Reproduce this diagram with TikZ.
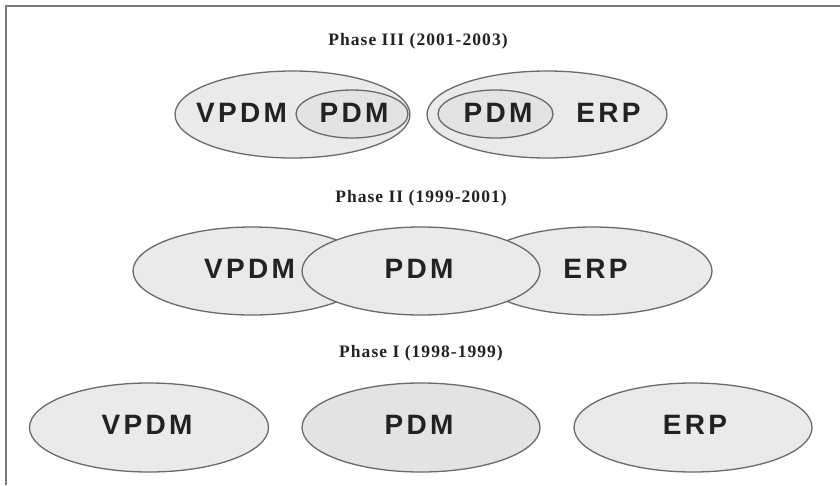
\documentclass[tikz,border=0pt]{standalone}
\usepackage{fontspec}
\setmainfont{Liberation Serif}
\newfontfamily\boxfont[LetterSpace=12]{Liberation Sans}
\newfontfamily\titlefont[LetterSpace=6]{Liberation Serif}
\usetikzlibrary{shapes.geometric}

\definecolor{edgegray}{HTML}{6A6A6A}
\definecolor{framegray}{HTML}{7A7A7A}
\definecolor{lightfill}{HTML}{EAEAEA}
\definecolor{midfill}{HTML}{E3E3E3}
\definecolor{ink}{HTML}{222222}

\tikzset{
  blob/.style={ellipse, draw=edgegray, line width=1.3pt, fill=#1, inner sep=0pt},
  blob/.default=lightfill,
  lbl/.style={font=\boxfont\bfseries\fontsize{28}{28}\selectfont, text=ink, inner sep=0pt},
  phasetitle/.style={font=\titlefont\bfseries\fontsize{17.5}{17.5}\selectfont, text=ink, inner sep=0pt}
}

\begin{document}
\begin{tikzpicture}[x=1pt, y=-1pt]
  % canvas and frame
  \fill[white] (0,0) rectangle (840,485);
  \useasboundingbox (0,0) rectangle (840,485);
  \coordinate (frameTL) at (6,6);
  \coordinate (frameTR) at (840,6);
  \coordinate (frameBL) at (6,485);
  \draw[framegray, line width=2pt] (frameBL) -- (frameTL) -- (frameTR);

  % Phase III
  \node[phasetitle] (t3) at (418,41) {Phase III (2001-2003)};
  \node[blob, minimum width=235, minimum height=87] (vpdm3) at (292.5,114.5) {};
  \node[blob=midfill, minimum width=112, minimum height=48] (pdm3a) at (352,114) {};
  \node[blob, minimum width=240, minimum height=87] (erp3) at (547,114.5) {};
  \node[blob=midfill, minimum width=115, minimum height=48] (pdm3b) at (495.5,114) {};
  \node[lbl] (vpdm3l) at (241.5,112.5) {VPDM};
  \node[lbl] (pdm3al) at (354,112.5) {PDM};
  \node[lbl] (pdm3bl) at (498,112.5) {PDM};
  \node[lbl] (erp3l) at (608.5,112.5) {ERP};

  % Phase II
  \node[phasetitle] (t2) at (421,198) {Phase II (1999-2001)};
  \node[blob, minimum width=238, minimum height=88] (vpdm2) at (252,271) {};
  \node[blob, minimum width=238, minimum height=88] (erp2) at (593,271) {};
  \node[blob, minimum width=238, minimum height=88] (pdm2) at (421,271) {};
  \node[lbl] (vpdm2l) at (249.5,269) {VPDM};
  \node[lbl] (pdm2l) at (419,269) {PDM};
  \node[lbl] (erp2l) at (595.5,269) {ERP};

  % Phase I
  \node[phasetitle] (t1) at (421,353) {Phase I (1998-1999)};
  \node[blob, minimum width=239, minimum height=89] (vpdm1) at (149,427.5) {};
  \node[blob=midfill, minimum width=238, minimum height=89] (pdm1) at (421,427.5) {};
  \node[blob, minimum width=238, minimum height=89] (erp1) at (693,427.5) {};
  \node[lbl] (vpdm1l) at (147,424.5) {VPDM};
  \node[lbl] (pdm1l) at (419,424.5) {PDM};
  \node[lbl] (erp1l) at (695,424.5) {ERP};
\end{tikzpicture}
\end{document}
